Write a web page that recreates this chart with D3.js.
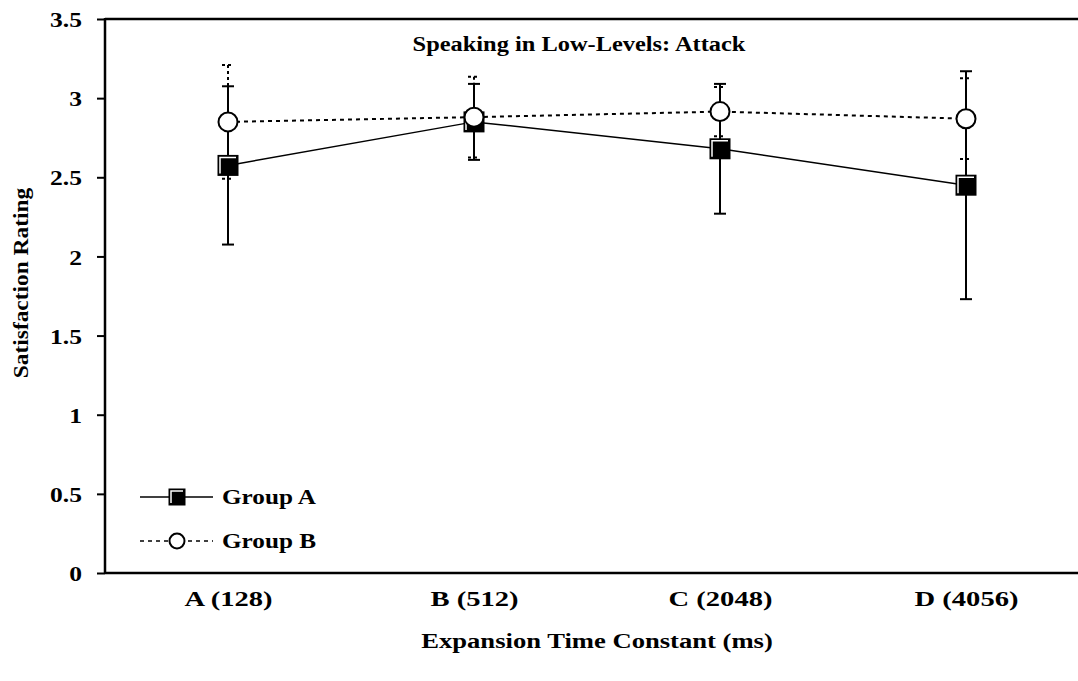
<!DOCTYPE html>
<html>
<head>
<meta charset="utf-8">
<script src="https://cdn.jsdelivr.net/npm/d3@7"></script>
<style>
  body { margin: 0; background: #fff; }
  text { font-family: "Liberation Serif", "Times New Roman", serif; font-weight: bold; fill: #000; }
</style>
</head>
<body>
<svg width="1078" height="681"></svg>
<script>
var categories = ["A (128)", "B (512)", "C (2048)", "D (4056)"];
var groupA = [2.575, 2.85, 2.68, 2.45];
var groupAErr = [0.5, 0.24, 0.41, 0.72];
var groupB = [2.85, 2.88, 2.915, 2.87];
var groupBErr = [0.36, 0.255, 0.155, 0.255];
var yTicks = [0, 0.5, 1, 1.5, 2, 2.5, 3, 3.5];

var plotLeft = 105, plotRight = 1089, plotTop = 19, plotBottom = 573;

var svg = d3.select("svg");
var x = d3.scalePoint().domain(categories).range([plotLeft, plotRight]).padding(0.5);
var y = d3.scaleLinear().domain([0, 3.5]).range([plotBottom, plotTop]);

// the original text is set wide, so widen glyphs a bit
function stretch(sel, k) {
  sel.each(function() {
    var w = this.getComputedTextLength();
    d3.select(this).attr("textLength", w * k).attr("lengthAdjust", "spacingAndGlyphs");
  });
}

// axes
var yAxis = svg.append("g")
  .attr("transform", "translate(" + plotLeft + ",0)")
  .call(d3.axisLeft(y).tickValues(yTicks).tickSize(8).tickPadding(15).tickFormat(d3.format("")));
yAxis.select(".domain").remove();
yAxis.selectAll(".tick line").attr("stroke", "#000").attr("stroke-width", 2);
yAxis.selectAll(".tick text").style("font-size", "22px").attr("dy", "0.35em")
  .attr("text-anchor", "end").call(stretch, 1.16);

svg.append("line").attr("x1", plotLeft).attr("x2", plotLeft).attr("y1", plotTop - 1).attr("y2", plotBottom + 1)
  .attr("stroke", "#000").attr("stroke-width", 2.5);
svg.append("line").attr("x1", plotLeft).attr("x2", 1078).attr("y1", plotTop).attr("y2", plotTop)
  .attr("stroke", "#000").attr("stroke-width", 2.5);

var xAxis = svg.append("g")
  .attr("transform", "translate(0," + plotBottom + ")")
  .call(d3.axisBottom(x).tickSize(0).tickPadding(18));
xAxis.select(".domain").remove();
xAxis.selectAll(".tick text").style("font-size", "21px").attr("dy", "0.71em").call(stretch, 1.36);
svg.append("line").attr("x1", plotLeft).attr("x2", 1078).attr("y1", plotBottom).attr("y2", plotBottom)
  .attr("stroke", "#000").attr("stroke-width", 2.5);

// titles
svg.append("text").attr("x", 579).attr("y", 51).attr("text-anchor", "middle")
  .style("font-size", "20px").text("Speaking in Low-Levels: Attack").call(stretch, 1.22);
svg.append("text").attr("x", 597).attr("y", 648).attr("text-anchor", "middle")
  .style("font-size", "20px").text("Expansion Time Constant (ms)").call(stretch, 1.33);
svg.append("text").attr("transform", "translate(28,283) rotate(-90)").attr("text-anchor", "middle")
  .style("font-size", "20px").text("Satisfaction Rating").call(stretch, 1.17);

// error bars
function errorBars(vals, errs, dash) {
  var g = svg.append("g").attr("stroke", "#000").attr("stroke-width", 2)
    .attr("stroke-dasharray", dash);
  vals.forEach(function(v, i) {
    var cx = x(categories[i]);
    g.append("line").attr("x1", cx).attr("x2", cx).attr("y1", y(v + errs[i])).attr("y2", y(v - errs[i]));
    [v + errs[i], v - errs[i]].forEach(function(e) {
      g.append("line").attr("x1", cx - 6).attr("x2", cx + 6).attr("y1", y(e)).attr("y2", y(e));
    });
  });
}
errorBars(groupB, groupBErr, "3,3");
errorBars(groupA, groupAErr, null);

// lines
var line = d3.line().x(function(d, i) { return x(categories[i]); }).y(function(d) { return y(d); });
svg.append("path").datum(groupA).attr("d", line).attr("fill", "none")
  .attr("stroke", "#000").attr("stroke-width", 1.5);
svg.append("path").datum(groupB).attr("d", line).attr("fill", "none")
  .attr("stroke", "#000").attr("stroke-width", 2).attr("stroke-dasharray", "4,4");

// markers
function square(g, cx, cy, s) {
  g.append("rect").attr("x", cx - s / 2).attr("y", cy - s / 2).attr("width", s).attr("height", s)
    .attr("fill", "#000");
  var p = s / 2 - 2.5;
  g.append("path").attr("d", "M" + (cx - p) + "," + (cy + p) + "V" + (cy - p) + "H" + (cx + p))
    .attr("fill", "none").attr("stroke", "#fff").attr("stroke-width", 1.5);
}
function circle(g, cx, cy, r) {
  g.append("circle").attr("cx", cx).attr("cy", cy).attr("r", r)
    .attr("fill", "#fff").attr("stroke", "#000").attr("stroke-width", 2);
}
var marks = svg.append("g");
groupA.forEach(function(v, i) { square(marks, x(categories[i]), y(v), 21); });
groupB.forEach(function(v, i) { circle(marks, x(categories[i]), y(v), 9.5); });

// legend
var leg = svg.append("g");
leg.append("line").attr("x1", 140).attr("x2", 213).attr("y1", 497).attr("y2", 497)
  .attr("stroke", "#000").attr("stroke-width", 1.5);
square(leg, 177, 497, 17);
leg.append("text").attr("x", 222).attr("y", 497).attr("dy", "0.35em").style("font-size", "20px")
  .text("Group A").call(stretch, 1.26);
leg.append("line").attr("x1", 140).attr("x2", 213).attr("y1", 541).attr("y2", 541)
  .attr("stroke", "#000").attr("stroke-width", 1.5).attr("stroke-dasharray", "4,4");
circle(leg, 177, 541, 7.5);
leg.append("text").attr("x", 222).attr("y", 541).attr("dy", "0.35em").style("font-size", "20px")
  .text("Group B").call(stretch, 1.26);
</script>
</body>
</html>
